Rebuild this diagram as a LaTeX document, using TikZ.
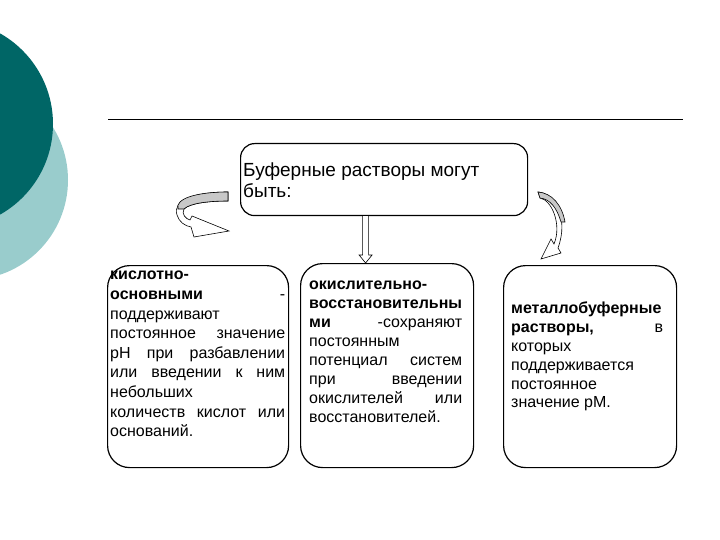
\documentclass[tikz,border=0pt]{standalone}
\usepackage{fontspec}
\setmainfont{Liberation Sans}
\usetikzlibrary{calc}
\definecolor{tealdark}{RGB}{0,102,102}
\definecolor{teallight}{RGB}{153,204,204}
\definecolor{arrowgray}{RGB}{200,200,200}
\newcommand{\jline}[2]{\makebox[#1][s]{#2}}

\begin{document}
\begin{tikzpicture}[x=1pt,y=-1pt,
  box/.style={draw,line width=1.2pt,rounded corners=22pt,anchor=north west,inner sep=0pt},
  boxtext/.style={anchor=north west,inner sep=0pt,align=left}]
  \useasboundingbox (0,0) rectangle (720,540);
  % circles at the left edge
  \fill[teallight] (-32,180) circle (100);
  \fill[tealdark] (-51,124) circle (104);
  \draw[line width=1pt] (108,120) -- (683,120);
  % title
  \node[box,rounded corners=14pt,minimum width=287,minimum height=72] (title) at (240,143) {};
  \node[boxtext,font=\fontsize{19}{21}\selectfont] (titletext) at ($(title.north west)+(3,20)$)
    {Буферные растворы могут\\быть:};
  % three kinds
  \node[box,minimum width=181,minimum height=202] (acid) at (107,265) {};
  \node[box,minimum width=173,minimum height=204] (redox) at (300,263) {};
  \node[box,minimum width=173,minimum height=202] (metal) at (503,265) {};
  \node[boxtext,font=\fontsize{16}{19.6}\selectfont] (acidtext) at ($(acid.north west)+(3,6)$)
    {\textbf{кислотно-}\\
     \hbox to 175pt{\textbf{основными}\hfill-}\\
     поддерживают\\
     \jline{175pt}{постоянное значение}\\
     \jline{175pt}{pH при разбавлении}\\
     \jline{175pt}{или введении к ним}\\
     небольших\\
     \jline{175pt}{количеств кислот или}\\
     оснований.};
  \node[boxtext,font=\fontsize{16}{19}\selectfont] (redoxtext) at ($(redox.north west)+(9,18)$)
    {\textbf{окислительно-}\\
     \textbf{восстановительны}\\
     \hbox to 153pt{\textbf{ми}\hfill-сохраняют}\\
     постоянным\\
     \jline{153pt}{потенциал систем}\\
     \jline{153pt}{при введении}\\
     \jline{153pt}{окислителей или}\\
     восстановителей.};
  \node[boxtext,font=\fontsize{16}{18.8}\selectfont] (metaltext) at ($(metal.north west)+(8,37)$)
    {\textbf{металлобуферные}\\
     \hbox to 152pt{\textbf{растворы,}\hfill в}\\
     которых\\
     поддерживается\\
     постоянное\\
     значение pM.};
  % straight arrow to the middle box
  \path (title.south) ++(-18.5,0) coordinate (down1);
  \path (redox.north -| down1) coordinate (down2);
  \draw[line width=0.6pt,fill=white] ($(down1)+(-3,0)$) -- ($(down2)+(-3,-8)$) -- ($(down2)+(-6.5,-8)$)
    -- (down2) -- ($(down2)+(6.5,-8)$) -- ($(down2)+(3,-8)$) -- ($(down1)+(3,0)$);
  % curved arrow on the left
  \draw[line width=0.6pt,fill=white] (228,192) .. controls (195,192) and (172,200) .. (177,215)
    .. controls (179,222) and (185,226) .. (191,227) -- (194,237) -- (229,231) -- (192,216)
    -- (190,220) .. controls (186,219) and (181,214) .. (184,209)
    .. controls (190,203) and (210,201) .. (228,201) -- cycle;
  \draw[line width=0.6pt,fill=arrowgray] (228,192) .. controls (195,192) and (175,199) .. (178,209)
    -- (184,209) .. controls (190,203) and (210,201) .. (228,201) -- cycle;
  % curved arrow on the right
  \draw[line width=0.6pt,fill=white] (538,192) .. controls (555,193) and (569,218) .. (558,248)
    -- (561,253) -- (541,259) -- (551,239) -- (554,244)
    .. controls (562,225) and (552,200) .. (540,198) -- cycle;
  \draw[line width=0.6pt,fill=arrowgray] (538,192) .. controls (552,193) and (562,205) .. (565,222)
    -- (561,222) .. controls (557,208) and (550,199) .. (540,198) -- cycle;
\end{tikzpicture}
\end{document}
